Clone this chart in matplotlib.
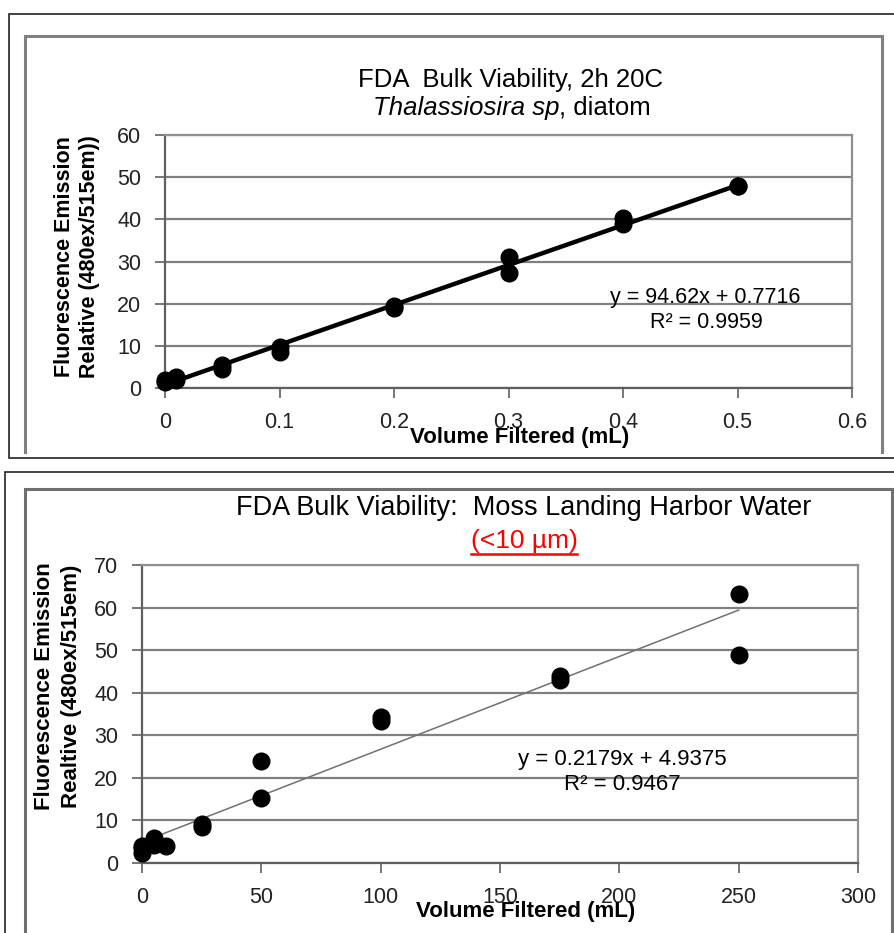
import matplotlib
matplotlib.use('Agg')
import matplotlib.pyplot as plt
from matplotlib.patches import Rectangle
from matplotlib.lines import Line2D
import numpy as np

plt.rcParams['font.family'] = ['Liberation Sans', 'DejaVu Sans']

# diatom culture
vol_a = [0, 0, 0.01, 0.01, 0.05, 0.05, 0.1, 0.1, 0.2, 0.2, 0.3, 0.3, 0.4, 0.4, 0.5, 0.5]
fl_a = [2.0, 1.5, 2.0, 2.5, 5.4, 4.4, 9.8, 8.6, 19.0, 19.4, 31.0, 27.2, 40.2, 39.0, 48.0, 47.8]
fit_a = (94.62, 0.7716)
r2_a = 0.9959

# harbor water
vol_b = [0, 0, 0, 5, 5, 10, 25, 25, 50, 50, 100, 100, 175, 175, 250, 250]
fl_b = [2.4, 3.5, 4.0, 5.8, 4.2, 3.9, 9.2, 8.4, 24.0, 15.2, 34.4, 33.3, 44.0, 43.1, 63.1, 48.9]
fit_b = (0.2179, 4.9375)
r2_b = 0.9467

W, H = 894, 933
fig = plt.figure(figsize=(W / 100, H / 100), dpi=100)


def px_axes(l, t, r, b):
    return fig.add_axes([l / W, 1 - b / H, (r - l) / W, (b - t) / H])


def px_line(xs, ys, color, lw):
    fig.add_artist(Line2D([x / W for x in xs], [1 - y / H for y in ys],
                          transform=fig.transFigure, color=color, linewidth=lw,
                          solid_joinstyle='miter'))


def fy(y):
    return 1 - y / H


# frames round the two pasted charts
px_line([900, 9, 9, 900], [14, 14, 458, 458], '#222222', 1.2)
px_line([25, 25, 882, 882], [452, 36, 36, 452], '#808080', 2.2)
px_line([5, 5, 900], [940, 472, 472], '#222222', 1.2)
px_line([25, 25, 892, 892], [940, 489, 489, 940], '#707070', 2.2)


def style_axes(ax, xmax, xstep, ymax, ystep):
    ax.set_xlim(0, xmax)
    ax.set_ylim(0, ymax)
    ax.set_xticks(np.arange(0, xmax + xstep / 2, xstep))
    ax.set_yticks(np.arange(0, ymax + ystep / 2, ystep))
    ax.yaxis.grid(True, color='#808080', linewidth=1.6)
    ax.set_axisbelow(True)
    for s in ['top', 'right']:
        ax.spines[s].set_color('#909090')
        ax.spines[s].set_linewidth(1.6)
    for s in ['left', 'bottom']:
        ax.spines[s].set_color('#606060')
        ax.spines[s].set_linewidth(1.6)
    ax.tick_params(axis='x', direction='out', length=7, width=1.2, color='#606060',
                   pad=10, labelsize=15.5, labelcolor='#222222')
    ax.tick_params(axis='y', direction='out', length=7, width=1.2, color='#606060',
                   pad=10, labelsize=15.5, labelcolor='#222222')


# top chart
ax1 = px_axes(165, 135, 852, 388)
style_axes(ax1, 0.6, 0.1, 60, 10)
ax1.set_xticklabels(['0', '0.1', '0.2', '0.3', '0.4', '0.5', '0.6'])
xs = np.array([0, 0.5])
ax1.plot(xs, fit_a[0] * xs + fit_a[1], color='black', linewidth=3.2, zorder=3)
ax1.plot(vol_a, fl_a, 'o', color='black', markersize=12, zorder=4, clip_on=False)
ax1.text((705 - 165) / 687, (388 - 298) / 253, 'y = 94.62x + 0.7716',
         transform=ax1.transAxes, ha='center', va='center', fontsize=15.5)
ax1.text((706 - 165) / 687, (388 - 323) / 253, f'R² = {r2_a}',
         transform=ax1.transAxes, ha='center', va='center', fontsize=15.5)

fig.text(511 / W, fy(80), 'FDA  Bulk Viability, 2h 20C', ha='center', va='center', fontsize=18.5)
fig.text(65 / W, fy(257), 'Fluorescence Emission', rotation=90, ha='center', va='center',
         fontsize=15.5, fontweight='bold')
fig.text(90 / W, fy(257), 'Relative (480ex/515em))', rotation=90, ha='center', va='center',
         fontsize=15.5, fontweight='bold')
fig.text(520 / W, fy(437), 'Volume Filtered (mL)', ha='center', va='center',
         fontsize=16, fontweight='bold')

# bottom chart
ax2 = px_axes(142, 565, 858, 863)
style_axes(ax2, 300, 50, 70, 10)
xs = np.array([0, 250])
ax2.plot(xs, fit_b[0] * xs + fit_b[1], color='#707070', linewidth=1.1, zorder=3)
ax2.plot(vol_b, fl_b, 'o', color='black', markersize=12, zorder=4, clip_on=False)
ax2.text((622 - 142) / 716, (863 - 760) / 298, 'y = 0.2179x + 4.9375',
         transform=ax2.transAxes, ha='center', va='center', fontsize=16)
ax2.text((622 - 142) / 716, (863 - 785) / 298, f'R² = {r2_b}',
         transform=ax2.transAxes, ha='center', va='center', fontsize=16)

fig.text(524 / W, fy(508), 'FDA Bulk Viability:  Moss Landing Harbor Water', ha='center',
         va='center', fontsize=19.5)
fig.text(45 / W, fy(686), 'Fluorescence Emission', rotation=90, ha='center', va='center',
         fontsize=16, fontweight='bold')
fig.text(72 / W, fy(686), 'Realtive (480ex/515em)', rotation=90, ha='center', va='center',
         fontsize=16, fontweight='bold')
fig.text(526 / W, fy(912), 'Volume Filtered (mL)', ha='center', va='center',
         fontsize=16, fontweight='bold')

# second title lines need a renderer to place pieces and the underline
fig.canvas.draw()
rend = fig.canvas.get_renderer()

t_it = fig.text(0, fy(108), 'Thalassiosira sp', style='italic', va='center', fontsize=18.5)
t_rg = fig.text(0, fy(108), ', diatom', va='center', fontsize=18.5)
w_it = t_it.get_window_extent(rend).width
w_rg = t_rg.get_window_extent(rend).width
x0 = 512 - (w_it + w_rg) / 2
t_it.set_x(x0 / W)
t_rg.set_x((x0 + w_it) / W)

t_red = fig.text(524 / W, fy(541), '(<10 µm)', ha='center', va='center', fontsize=19,
                 color='#ff0000')
bb = t_red.get_window_extent(rend)
fig.add_artist(Line2D([bb.x0 / W, bb.x1 / W], [(bb.y0 - 1) / H, (bb.y0 - 1) / H],
                      transform=fig.transFigure, color='#ff0000', linewidth=1.8))

fig.savefig('out.png', dpi=100)
